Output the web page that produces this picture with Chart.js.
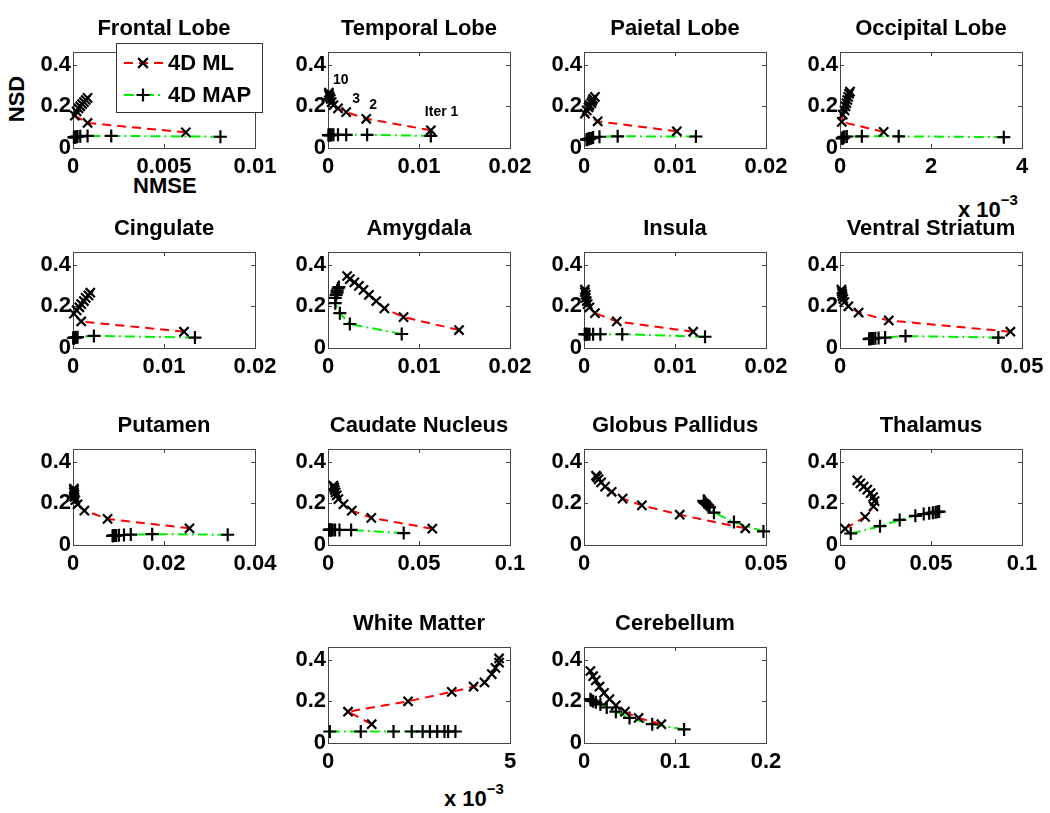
<!DOCTYPE html>
<html>
<head>
<meta charset="utf-8">
<script src="https://cdn.jsdelivr.net/npm/chart.js@4.4.1/dist/chart.umd.min.js"></script>
<style>
  body { margin: 0; background: #fff; width: 1050px; height: 813px; position: relative; overflow: hidden; }
  canvas { position: absolute; }
  .lbl { position: absolute; font: bold 22px "Liberation Sans", Arial, sans-serif; color: #000; white-space: nowrap; }
  .lbl sup { font-size: 15px; position: relative; top: -4px; }
</style>
</head>
<body>
<div class="lbl" style="left:-6px;top:86px;transform:rotate(-90deg);">NSD</div>
<div class="lbl" style="left:133px;top:173px;">NMSE</div>
<div class="lbl" style="left:958px;top:195px;">x 10<sup>&minus;3</sup></div>
<div class="lbl" style="left:444px;top:784px;">x 10<sup>&minus;3</sup></div>
<script>
// ---- data (NMSE on x, NSD on y), 10 iterations per method ----
const panelTitles = ['Frontal Lobe', 'Temporal Lobe', 'Paietal Lobe', 'Occipital Lobe',
  'Cingulate', 'Amygdala', 'Insula', 'Ventral Striatum',
  'Putamen', 'Caudate Nucleus', 'Globus Pallidus', 'Thalamus',
  'White Matter', 'Cerebellum'];

const xMax = [0.01, 0.02, 0.02, 0.004, 0.02, 0.02, 0.02, 0.05, 0.04, 0.1, 0.05, 0.1, 0.005, 0.2];
const xTicks = [
  [0, 0.005, 0.01], [0, 0.01, 0.02], [0, 0.01, 0.02], [0, 0.002, 0.004],
  [0, 0.01, 0.02], [0, 0.01, 0.02], [0, 0.01, 0.02], [0, 0.05],
  [0, 0.02, 0.04], [0, 0.05, 0.1], [0, 0.05], [0, 0.05, 0.1],
  [0, 0.005], [0, 0.1, 0.2]
];
const xTickLabels = [
  ['0', '0.005', '0.01'], ['0', '0.01', '0.02'], ['0', '0.01', '0.02'], ['0', '2', '4'],
  ['0', '0.01', '0.02'], ['0', '0.01', '0.02'], ['0', '0.01', '0.02'], ['0', '0.05'],
  ['0', '0.02', '0.04'], ['0', '0.05', '0.1'], ['0', '0.05'], ['0', '0.05', '0.1'],
  ['0', '5'], ['0', '0.1', '0.2']
];
const yTicks = [0, 0.2, 0.4];
const yTickLabels = ['0', '0.2', '0.4'];
const seriesLabels = ['4D ML', '4D MAP'];

const mlNmse = [
  [0.0062, 0.0008, 0.0001, 0.0002, 0.0003, 0.0004, 0.0005, 0.0006, 0.0007, 0.0008],
  [0.0113, 0.0042, 0.002, 0.0011, 0.0006, 0.0004, 0.0003, 0.0002, 0.0001, 0.0001],
  [0.0102, 0.0015, 0.0001, 0.0003, 0.0005, 0.0006, 0.0008, 0.0009, 0.001, 0.0012],
  [0.00096, 0.00004, 0.00006, 0.0001, 0.00012, 0.00014, 0.00016, 0.00018, 0.0002, 0.00022],
  [0.0122, 0.0009, 0.0001, 0.0004, 0.0007, 0.0009, 0.0012, 0.0014, 0.0017, 0.0019],
  [0.0144, 0.0083, 0.0062, 0.0053, 0.0045, 0.0039, 0.0034, 0.0029, 0.0024, 0.0021],
  [0.012, 0.0036, 0.0012, 0.0006, 0.0004, 0.0003, 0.0002, 0.0002, 0.0001, 0.0001],
  [0.0468, 0.0134, 0.0051, 0.0023, 0.0012, 0.0009, 0.0007, 0.0006, 0.0005, 0.0004],
  [0.0256, 0.0076, 0.0025, 0.001, 0.0005, 0.0003, 0.0003, 0.0002, 0.0002, 0.0002],
  [0.0573, 0.0238, 0.0131, 0.0085, 0.0057, 0.0048, 0.0042, 0.0037, 0.0034, 0.003],
  [0.0443, 0.0263, 0.0159, 0.0106, 0.0076, 0.0058, 0.0047, 0.004, 0.0036, 0.0033],
  [0.0028, 0.0138, 0.0184, 0.019, 0.0182, 0.0168, 0.015, 0.013, 0.0112, 0.0095],
  [0.0012, 0.00055, 0.0022, 0.0034, 0.004, 0.0043, 0.0045, 0.0046, 0.0047, 0.0047],
  [0.085, 0.06, 0.045, 0.035, 0.028, 0.022, 0.017, 0.013, 0.01, 0.007]
];
const mlNsd = [
  [0.075, 0.12, 0.155, 0.175, 0.19, 0.2, 0.21, 0.22, 0.23, 0.24],
  [0.085, 0.14, 0.172, 0.19, 0.205, 0.22, 0.235, 0.245, 0.255, 0.265],
  [0.08, 0.128, 0.165, 0.18, 0.195, 0.205, 0.215, 0.225, 0.235, 0.245],
  [0.077, 0.125, 0.16, 0.18, 0.2, 0.215, 0.23, 0.245, 0.26, 0.27],
  [0.078, 0.127, 0.165, 0.18, 0.195, 0.21, 0.225, 0.24, 0.252, 0.265],
  [0.086, 0.148, 0.19, 0.225, 0.255, 0.278, 0.298, 0.315, 0.33, 0.345],
  [0.078, 0.127, 0.167, 0.195, 0.21, 0.225, 0.24, 0.255, 0.268, 0.28],
  [0.078, 0.132, 0.17, 0.2, 0.22, 0.235, 0.248, 0.26, 0.27, 0.28],
  [0.08, 0.125, 0.165, 0.195, 0.215, 0.23, 0.242, 0.252, 0.262, 0.27],
  [0.078, 0.13, 0.165, 0.195, 0.22, 0.238, 0.252, 0.264, 0.275, 0.285],
  [0.08, 0.145, 0.19, 0.222, 0.255, 0.28, 0.3, 0.315, 0.325, 0.332],
  [0.078, 0.135, 0.185, 0.21, 0.23, 0.248, 0.265, 0.28, 0.295, 0.31],
  [0.09, 0.15, 0.2, 0.245, 0.27, 0.29, 0.33, 0.36, 0.385, 0.405],
  [0.09, 0.12, 0.15, 0.18, 0.21, 0.24, 0.27, 0.3, 0.32, 0.345]
];
const mapNmse = [
  [0.0081, 0.0021, 0.0008, 0.0004, 0.00025, 0.0002, 0.00015, 0.0001, 0.0001, 0.00005],
  [0.0113, 0.0043, 0.002, 0.0011, 0.0006, 0.0004, 0.0003, 0.0002, 0.0001, 0.00005],
  [0.0123, 0.0037, 0.0017, 0.001, 0.0008, 0.0006, 0.0005, 0.0004, 0.0003, 0.0003],
  [0.0036, 0.00129, 0.00048, 0.00015, 0.0001, 0.00008, 0.00007, 0.00006, 0.00005, 0.00005],
  [0.0134, 0.0023, 0.0005, 0.0003, 0.0002, 0.00015, 0.0001, 0.0001, 0.00005, 0.00005],
  [0.0081, 0.0024, 0.0013, 0.0008, 0.0008, 0.0009, 0.001, 0.001, 0.0011, 0.0012],
  [0.0133, 0.0042, 0.0018, 0.001, 0.0006, 0.0004, 0.0003, 0.0002, 0.0001, 0.0001],
  [0.0435, 0.018, 0.0124, 0.0106, 0.0097, 0.0091, 0.0087, 0.0084, 0.0082, 0.008],
  [0.034, 0.0174, 0.0127, 0.0112, 0.0101, 0.0095, 0.0092, 0.009, 0.0088, 0.0087],
  [0.0416, 0.0127, 0.0063, 0.0039, 0.0026, 0.0018, 0.0013, 0.001, 0.0008, 0.0007],
  [0.0493, 0.0412, 0.0357, 0.0345, 0.034, 0.0336, 0.0333, 0.0331, 0.033, 0.0329],
  [0.0059, 0.022, 0.0328, 0.0414, 0.046, 0.049, 0.051, 0.0525, 0.0535, 0.0545],
  [0.00005, 0.0009, 0.0018, 0.0023, 0.0026, 0.0028, 0.003, 0.0032, 0.0033, 0.0035],
  [0.11, 0.075, 0.05, 0.035, 0.025, 0.018, 0.013, 0.01, 0.008, 0.007]
];
const mapNsd = [
  [0.054, 0.058, 0.058, 0.056, 0.055, 0.054, 0.053, 0.052, 0.052, 0.051],
  [0.058, 0.063, 0.063, 0.063, 0.063, 0.063, 0.062, 0.062, 0.062, 0.062],
  [0.055, 0.056, 0.054, 0.05, 0.047, 0.045, 0.043, 0.042, 0.041, 0.04],
  [0.052, 0.056, 0.056, 0.055, 0.054, 0.052, 0.05, 0.048, 0.047, 0.046],
  [0.05, 0.058, 0.052, 0.05, 0.05, 0.049, 0.049, 0.048, 0.048, 0.048],
  [0.067, 0.115, 0.167, 0.215, 0.24, 0.255, 0.265, 0.275, 0.285, 0.292],
  [0.054, 0.066, 0.066, 0.066, 0.066, 0.066, 0.066, 0.066, 0.066, 0.066],
  [0.05, 0.057, 0.05, 0.048, 0.047, 0.046, 0.045, 0.044, 0.044, 0.043],
  [0.049, 0.052, 0.05, 0.048, 0.047, 0.046, 0.045, 0.045, 0.044, 0.044],
  [0.057, 0.072, 0.072, 0.072, 0.072, 0.072, 0.072, 0.072, 0.072, 0.072],
  [0.065, 0.11, 0.155, 0.18, 0.19, 0.197, 0.202, 0.206, 0.209, 0.212],
  [0.055, 0.09, 0.12, 0.14, 0.148, 0.152, 0.155, 0.157, 0.159, 0.16],
  [0.055, 0.055, 0.055, 0.055, 0.055, 0.055, 0.055, 0.055, 0.055, 0.055],
  [0.065, 0.09, 0.12, 0.15, 0.17, 0.185, 0.195, 0.2, 0.205, 0.21]
];

// iteration labels written in the Temporal Lobe panel (index into the ML series)
const iterNotes = [
  { k: 0, text: 'Iter 1', dx: -6, dy: -18 },
  { k: 1, text: '2', dx: 3, dy: -14 },
  { k: 2, text: '3', dx: 6, dy: -13 },
  { k: 9, text: '10', dx: 4, dy: -13 }
];

// ---- layout ----
const FONT = '"Liberation Sans", Arial, sans-serif';
const colLeft = [73, 328, 584, 840];
const rowTop = [52, 252, 449, 647];
const plotW = 182, plotH = 96;
const padL = 70, padT = 50, padR = 40, padB = 40;

function slotOf(i) {
  if (i < 12) return [Math.floor(i / 4), i % 4];
  return [3, i - 11];
}

const framePlugin = {
  id: 'frame',
  beforeDatasetsDraw(chart) {
    const { ctx, chartArea: a, scales } = chart;
    ctx.save();
    ctx.strokeStyle = '#444';
    ctx.lineWidth = 1;
    ctx.strokeRect(a.left + 0.5, a.top + 0.5, a.right - a.left, a.bottom - a.top);
    ctx.beginPath();
    scales.x.ticks.forEach(t => {
      const px = Math.round(scales.x.getPixelForValue(t.value)) + 0.5;
      if (px <= a.left + 1 || px >= a.right - 1) return;
      ctx.moveTo(px, a.bottom); ctx.lineTo(px, a.bottom - 4);
      ctx.moveTo(px, a.top); ctx.lineTo(px, a.top + 4);
    });
    scales.y.ticks.forEach(t => {
      const py = Math.round(scales.y.getPixelForValue(t.value)) + 0.5;
      if (py <= a.top + 1 || py >= a.bottom - 1) return;
      ctx.moveTo(a.left, py); ctx.lineTo(a.left + 4, py);
      ctx.moveTo(a.right, py); ctx.lineTo(a.right - 4, py);
    });
    ctx.stroke();
    ctx.restore();
  }
};

function titlePlugin(text) {
  return {
    id: 'panelTitle',
    afterDraw(chart) {
      const { ctx, chartArea: a } = chart;
      ctx.save();
      ctx.font = 'bold 22px ' + FONT;
      ctx.fillStyle = '#000';
      ctx.textAlign = 'center';
      ctx.textBaseline = 'middle';
      ctx.fillText(text, (a.left + a.right) / 2, a.top - 23);
      ctx.restore();
    }
  };
}

function drawMarker(ctx, style, x, y, r) {
  ctx.beginPath();
  if (style === 'crossRot') {
    const d = r * 0.75;
    ctx.moveTo(x - d, y - d); ctx.lineTo(x + d, y + d);
    ctx.moveTo(x - d, y + d); ctx.lineTo(x + d, y - d);
  } else {
    ctx.moveTo(x - r, y); ctx.lineTo(x + r, y);
    ctx.moveTo(x, y - r); ctx.lineTo(x, y + r);
  }
  ctx.stroke();
}

const legendPlugin = {
  id: 'boxLegend',
  afterDraw(chart) {
    const { ctx, chartArea: a } = chart;
    const x0 = a.left + 43, y0 = a.top - 9, w = 146, h = 69;
    ctx.save();
    ctx.fillStyle = '#fff';
    ctx.fillRect(x0, y0, w, h);
    ctx.strokeStyle = '#333';
    ctx.lineWidth = 1;
    ctx.strokeRect(x0 + 0.5, y0 + 0.5, w, h);
    chart.data.datasets.forEach((ds, j) => {
      const yy = y0 + 20 + j * 32;
      ctx.strokeStyle = ds.borderColor;
      ctx.lineWidth = 2;
      ctx.setLineDash(ds.borderDash);
      ctx.beginPath();
      ctx.moveTo(x0 + 8, yy); ctx.lineTo(x0 + 48, yy);
      ctx.stroke();
      ctx.setLineDash([]);
      ctx.strokeStyle = '#000';
      ctx.lineWidth = 2.2;
      drawMarker(ctx, ds.pointStyle, x0 + 27, yy, ds.pointRadius);
      ctx.fillStyle = '#000';
      ctx.font = 'bold 22px ' + FONT;
      ctx.textBaseline = 'middle';
      ctx.fillText(ds.label, x0 + 52, yy + 1);
    });
    ctx.restore();
  }
};

function notesPlugin(i) {
  return {
    id: 'iterNotes',
    afterDraw(chart) {
      const { ctx, scales } = chart;
      ctx.save();
      ctx.font = 'bold 14px ' + FONT;
      ctx.fillStyle = '#000';
      ctx.textBaseline = 'middle';
      iterNotes.forEach(n => {
        const px = scales.x.getPixelForValue(mlNmse[i][n.k]);
        const py = scales.y.getPixelForValue(mlNsd[i][n.k]);
        ctx.fillText(n.text, px + n.dx, py + n.dy);
      });
      ctx.restore();
    }
  };
}

function makePanel(i) {
  const [r, c] = slotOf(i);
  const cv = document.createElement('canvas');
  cv.width = plotW + padL + padR;
  cv.height = plotH + padT + padB;
  cv.style.left = (colLeft[c] - padL) + 'px';
  cv.style.top = (rowTop[r] - padT) + 'px';
  document.body.appendChild(cv);

  const plugins = [framePlugin, titlePlugin(panelTitles[i])];
  if (i === 0) plugins.push(legendPlugin);
  if (i === 1) plugins.push(notesPlugin(i));

  const tickFont = { family: FONT, size: 22, weight: 'bold' };

  new Chart(cv, {
    type: 'scatter',
    data: {
      datasets: [
        {
          label: seriesLabels[0],
          data: mlNmse[i].map((x, k) => ({ x: x, y: mlNsd[i][k] })),
          showLine: true,
          borderColor: '#ff0000',
          borderWidth: 2,
          borderDash: [9, 6],
          pointStyle: 'crossRot',
          pointRadius: 6.5,
          pointBorderColor: '#000',
          pointBackgroundColor: '#000',
          pointBorderWidth: 2.2,
          clip: false
        },
        {
          label: seriesLabels[1],
          data: mapNmse[i].map((x, k) => ({ x: x, y: mapNsd[i][k] })),
          showLine: true,
          borderColor: '#00ee00',
          borderWidth: 2,
          borderDash: [10, 4, 2, 4],
          pointStyle: 'cross',
          pointRadius: 6.5,
          pointBorderColor: '#000',
          pointBackgroundColor: '#000',
          pointBorderWidth: 2.2,
          clip: false
        }
      ]
    },
    options: {
      responsive: false,
      animation: false,
      devicePixelRatio: 1,
      layout: { padding: { left: 0, top: padT, right: padR, bottom: 0 } },
      plugins: { legend: { display: false }, tooltip: { enabled: false } },
      scales: {
        x: {
          type: 'linear',
          min: 0,
          max: xMax[i],
          afterBuildTicks: s => { s.ticks = xTicks[i].map(v => ({ value: v })); },
          afterFit: s => { s.height = padB; },
          grid: { display: false, drawTicks: false },
          border: { display: false },
          ticks: {
            color: '#000', font: tickFont, padding: 6, maxRotation: 0, autoSkip: false,
            callback: (v, k) => xTickLabels[i][k]
          }
        },
        y: {
          type: 'linear',
          min: 0,
          max: 0.46,
          afterBuildTicks: s => { s.ticks = yTicks.map(v => ({ value: v })); },
          afterFit: s => { s.width = padL; },
          grid: { display: false, drawTicks: false },
          border: { display: false },
          ticks: {
            color: '#000', font: tickFont, padding: 2, autoSkip: false,
            callback: (v, k) => yTickLabels[k]
          }
        }
      }
    },
    plugins: plugins
  });
}

for (let i = 0; i < panelTitles.length; i++) makePanel(i);
</script>
</body>
</html>
